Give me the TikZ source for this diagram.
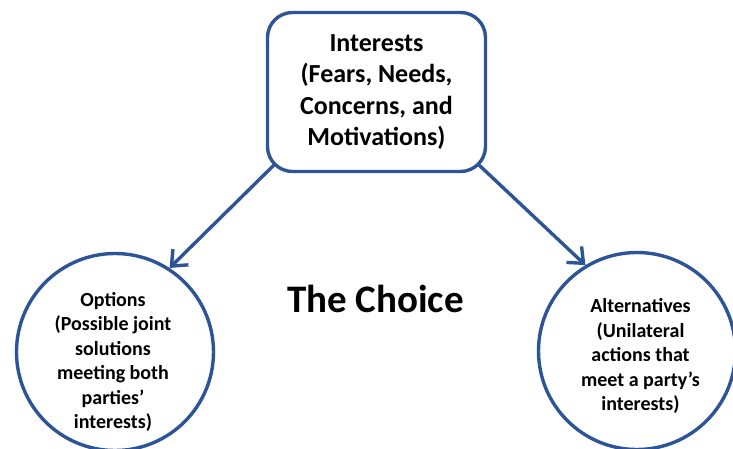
\documentclass[tikz,border=0pt]{standalone}
\usepackage{fontspec}
\setmainfont{Carlito}
\usetikzlibrary{arrows.meta}
\definecolor{frameblue}{RGB}{44,84,150}

\begin{document}
\begin{tikzpicture}[x=1pt,y=1pt,
    box/.style={draw=frameblue,line width=3.4pt,rounded corners=25pt,
      minimum width=218pt,minimum height=159pt,align=center,
      font=\bfseries\fontsize{26}{31.6}\selectfont},
    ring/.style={draw=frameblue,line width=3.4pt,circle,minimum size=197pt,inner sep=0pt},
    ringtext/.style={align=center,font=\bfseries\fontsize{20}{24.5}\selectfont},
    arrow/.style={draw=frameblue,line width=3.4pt,-{Straight Barb[length=13pt,width=22pt]}}]
    \useasboundingbox (0,0) rectangle (733,448);
    \node[box] (interests) at (376.5,356) {Interests\\(Fears, Needs,\\Concerns, and\\Motivations)};
    \node[ring] (options) at (115,96) {};
    \node[ring] (alternatives) at (637,97) {};
    \node[ringtext] (optionstext) at (113,86)
      {Options\\(Possible joint\\solutions\\meeting both\\parties’\\interests)};
    \node[ringtext] (alternativestext) at (640.5,92)
      {Alternatives\\(Unilateral\\actions that\\meet a party’s\\interests)};
    \node[font=\bfseries\fontsize{39}{47}\selectfont,anchor=base] (choice) at (375.5,136) {The Choice};
    \draw[arrow] ([xshift=8pt,yshift=8pt]interests.south west) -- (options.57);
    \draw[arrow] ([xshift=-8pt,yshift=8pt]interests.south east) -- (alternatives.121);
\end{tikzpicture}
\end{document}
